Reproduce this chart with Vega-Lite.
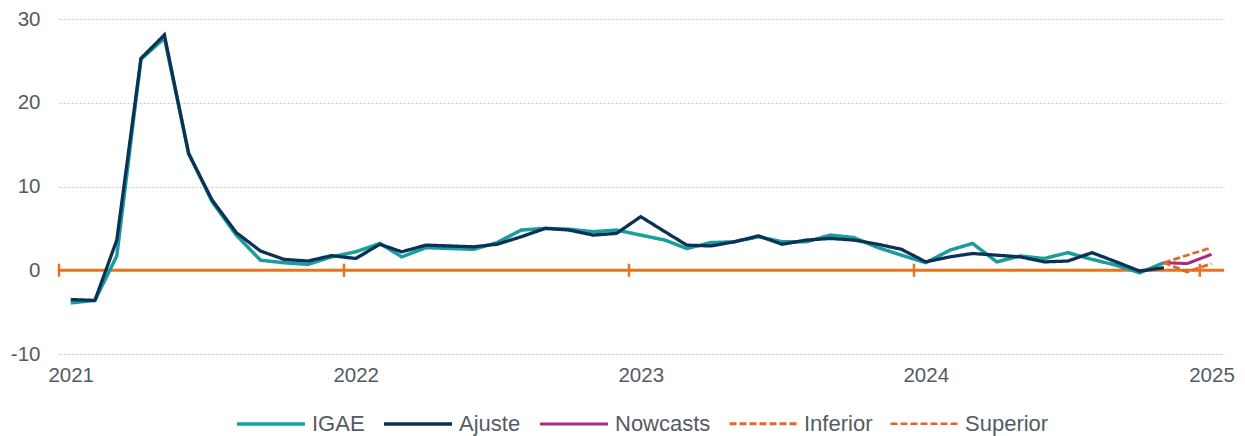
{
  "$schema": "https://vega.github.io/schema/vega-lite/v6.json",
  "autosize": {"type": "none"},
  "padding": {"left": 59, "top": 19, "right": 21, "bottom": 82},
  "width": 1165,
  "height": 335,
  "config": {
    "font": "Liberation Sans",
    "view": {"stroke": null},
    "axis": {"labelColor": "#545b63", "labelFont": "Liberation Sans"},
    "legend": {"labelFont": "Liberation Sans"}
  },
  "datasets": {
    "series": [
      {"fecha": "2021-01-16", "serie": "IGAE", "valor": -3.9},
      {"fecha": "2021-02-16", "serie": "IGAE", "valor": -3.6},
      {"fecha": "2021-03-16", "serie": "IGAE", "valor": 1.7},
      {"fecha": "2021-04-16", "serie": "IGAE", "valor": 25.2},
      {"fecha": "2021-05-16", "serie": "IGAE", "valor": 27.7},
      {"fecha": "2021-06-16", "serie": "IGAE", "valor": 14.0},
      {"fecha": "2021-07-16", "serie": "IGAE", "valor": 8.2},
      {"fecha": "2021-08-16", "serie": "IGAE", "valor": 4.2},
      {"fecha": "2021-09-16", "serie": "IGAE", "valor": 1.2},
      {"fecha": "2021-10-16", "serie": "IGAE", "valor": 0.9},
      {"fecha": "2021-11-16", "serie": "IGAE", "valor": 0.7},
      {"fecha": "2021-12-16", "serie": "IGAE", "valor": 1.6},
      {"fecha": "2022-01-16", "serie": "IGAE", "valor": 2.2},
      {"fecha": "2022-02-16", "serie": "IGAE", "valor": 3.2},
      {"fecha": "2022-03-16", "serie": "IGAE", "valor": 1.6},
      {"fecha": "2022-04-16", "serie": "IGAE", "valor": 2.7},
      {"fecha": "2022-05-16", "serie": "IGAE", "valor": 2.6},
      {"fecha": "2022-06-16", "serie": "IGAE", "valor": 2.5},
      {"fecha": "2022-07-16", "serie": "IGAE", "valor": 3.3},
      {"fecha": "2022-08-16", "serie": "IGAE", "valor": 4.8},
      {"fecha": "2022-09-16", "serie": "IGAE", "valor": 5.0},
      {"fecha": "2022-10-16", "serie": "IGAE", "valor": 4.9},
      {"fecha": "2022-11-16", "serie": "IGAE", "valor": 4.6},
      {"fecha": "2022-12-16", "serie": "IGAE", "valor": 4.8},
      {"fecha": "2023-01-16", "serie": "IGAE", "valor": 4.2},
      {"fecha": "2023-02-16", "serie": "IGAE", "valor": 3.6},
      {"fecha": "2023-03-16", "serie": "IGAE", "valor": 2.6},
      {"fecha": "2023-04-16", "serie": "IGAE", "valor": 3.3},
      {"fecha": "2023-05-16", "serie": "IGAE", "valor": 3.4},
      {"fecha": "2023-06-16", "serie": "IGAE", "valor": 4.0},
      {"fecha": "2023-07-16", "serie": "IGAE", "valor": 3.4},
      {"fecha": "2023-08-16", "serie": "IGAE", "valor": 3.4},
      {"fecha": "2023-09-16", "serie": "IGAE", "valor": 4.2},
      {"fecha": "2023-10-16", "serie": "IGAE", "valor": 3.9},
      {"fecha": "2023-11-16", "serie": "IGAE", "valor": 2.7},
      {"fecha": "2023-12-16", "serie": "IGAE", "valor": 1.8},
      {"fecha": "2024-01-16", "serie": "IGAE", "valor": 0.9},
      {"fecha": "2024-02-16", "serie": "IGAE", "valor": 2.4},
      {"fecha": "2024-03-16", "serie": "IGAE", "valor": 3.2},
      {"fecha": "2024-04-16", "serie": "IGAE", "valor": 1.0},
      {"fecha": "2024-05-16", "serie": "IGAE", "valor": 1.7},
      {"fecha": "2024-06-16", "serie": "IGAE", "valor": 1.4},
      {"fecha": "2024-07-16", "serie": "IGAE", "valor": 2.1},
      {"fecha": "2024-08-16", "serie": "IGAE", "valor": 1.3},
      {"fecha": "2024-09-16", "serie": "IGAE", "valor": 0.6},
      {"fecha": "2024-10-16", "serie": "IGAE", "valor": -0.3},
      {"fecha": "2024-11-16", "serie": "IGAE", "valor": 0.9},
      {"fecha": "2021-01-16", "serie": "Ajuste", "valor": -3.5},
      {"fecha": "2021-02-16", "serie": "Ajuste", "valor": -3.6},
      {"fecha": "2021-03-16", "serie": "Ajuste", "valor": 3.6},
      {"fecha": "2021-04-16", "serie": "Ajuste", "valor": 25.3},
      {"fecha": "2021-05-16", "serie": "Ajuste", "valor": 28.1},
      {"fecha": "2021-06-16", "serie": "Ajuste", "valor": 13.9},
      {"fecha": "2021-07-16", "serie": "Ajuste", "valor": 8.4},
      {"fecha": "2021-08-16", "serie": "Ajuste", "valor": 4.5},
      {"fecha": "2021-09-16", "serie": "Ajuste", "valor": 2.3},
      {"fecha": "2021-10-16", "serie": "Ajuste", "valor": 1.3},
      {"fecha": "2021-11-16", "serie": "Ajuste", "valor": 1.1},
      {"fecha": "2021-12-16", "serie": "Ajuste", "valor": 1.75},
      {"fecha": "2022-01-16", "serie": "Ajuste", "valor": 1.4},
      {"fecha": "2022-02-16", "serie": "Ajuste", "valor": 3.1},
      {"fecha": "2022-03-16", "serie": "Ajuste", "valor": 2.2},
      {"fecha": "2022-04-16", "serie": "Ajuste", "valor": 3.0},
      {"fecha": "2022-05-16", "serie": "Ajuste", "valor": 2.9},
      {"fecha": "2022-06-16", "serie": "Ajuste", "valor": 2.8},
      {"fecha": "2022-07-16", "serie": "Ajuste", "valor": 3.1},
      {"fecha": "2022-08-16", "serie": "Ajuste", "valor": 4.0},
      {"fecha": "2022-09-16", "serie": "Ajuste", "valor": 5.0},
      {"fecha": "2022-10-16", "serie": "Ajuste", "valor": 4.8},
      {"fecha": "2022-11-16", "serie": "Ajuste", "valor": 4.2},
      {"fecha": "2022-12-16", "serie": "Ajuste", "valor": 4.4},
      {"fecha": "2023-01-16", "serie": "Ajuste", "valor": 6.4},
      {"fecha": "2023-02-16", "serie": "Ajuste", "valor": 4.6},
      {"fecha": "2023-03-16", "serie": "Ajuste", "valor": 3.0},
      {"fecha": "2023-04-16", "serie": "Ajuste", "valor": 2.9},
      {"fecha": "2023-05-16", "serie": "Ajuste", "valor": 3.4},
      {"fecha": "2023-06-16", "serie": "Ajuste", "valor": 4.1},
      {"fecha": "2023-07-16", "serie": "Ajuste", "valor": 3.1},
      {"fecha": "2023-08-16", "serie": "Ajuste", "valor": 3.6},
      {"fecha": "2023-09-16", "serie": "Ajuste", "valor": 3.8},
      {"fecha": "2023-10-16", "serie": "Ajuste", "valor": 3.6},
      {"fecha": "2023-11-16", "serie": "Ajuste", "valor": 3.1},
      {"fecha": "2023-12-16", "serie": "Ajuste", "valor": 2.5},
      {"fecha": "2024-01-16", "serie": "Ajuste", "valor": 1.0},
      {"fecha": "2024-02-16", "serie": "Ajuste", "valor": 1.6},
      {"fecha": "2024-03-16", "serie": "Ajuste", "valor": 2.0},
      {"fecha": "2024-04-16", "serie": "Ajuste", "valor": 1.8},
      {"fecha": "2024-05-16", "serie": "Ajuste", "valor": 1.6},
      {"fecha": "2024-06-16", "serie": "Ajuste", "valor": 1.0},
      {"fecha": "2024-07-16", "serie": "Ajuste", "valor": 1.1},
      {"fecha": "2024-08-16", "serie": "Ajuste", "valor": 2.1},
      {"fecha": "2024-09-16", "serie": "Ajuste", "valor": 1.0},
      {"fecha": "2024-10-16", "serie": "Ajuste", "valor": -0.1},
      {"fecha": "2024-11-16", "serie": "Ajuste", "valor": 0.3},
      {"fecha": "2024-11-16", "serie": "Nowcasts", "valor": 0.9},
      {"fecha": "2024-12-16", "serie": "Nowcasts", "valor": 0.8},
      {"fecha": "2025-01-16", "serie": "Nowcasts", "valor": 1.9},
      {"fecha": "2024-11-16", "serie": "Inferior", "valor": 0.9},
      {"fecha": "2024-12-16", "serie": "Inferior", "valor": -0.2},
      {"fecha": "2025-01-16", "serie": "Inferior", "valor": 0.8},
      {"fecha": "2024-11-16", "serie": "Superior", "valor": 0.9},
      {"fecha": "2024-12-16", "serie": "Superior", "valor": 1.8},
      {"fecha": "2025-01-16", "serie": "Superior", "valor": 2.7}
    ],
    "years": [
      {"fecha": "2021-01-01"},
      {"fecha": "2022-01-01"},
      {"fecha": "2023-01-01"},
      {"fecha": "2024-01-01"},
      {"fecha": "2025-01-01"}
    ],
    "cero": [{"valor": 0}]
  },
  "layer": [
    {
      "data": {"name": "cero"},
      "mark": {"type": "rule", "color": "#e8731e", "strokeWidth": 3},
      "encoding": {
        "y": {
          "field": "valor",
          "type": "quantitative",
          "scale": {"domain": [-10, 30], "nice": false},
          "axis": {
            "title": null,
            "values": [-10, 0, 10, 20, 30],
            "domain": false,
            "ticks": false,
            "labelFontSize": 20.5,
            "labelPadding": 19,
            "labelExpr": "datum.value < 0 ? '-' + abs(datum.value) : '' + datum.value",
            "grid": true,
            "gridColor": "#c4c4c4",
            "gridDash": [2, 2],
            "gridWidth": 1
          }
        }
      }
    },
    {
      "data": {"name": "years"},
      "mark": {"type": "rule", "color": "#e8731e", "strokeWidth": 2.5},
      "encoding": {
        "x": {
          "field": "fecha",
          "type": "temporal",
          "scale": {
            "type": "utc",
            "domain": [
              {"year": 2021, "month": 1, "date": 1, "utc": true},
              {"year": 2025, "month": 2, "date": 1, "utc": true}
            ]
          },
          "axis": {
            "title": null,
            "grid": false,
            "domain": false,
            "ticks": false,
            "labelFontSize": 20.5,
            "labelPadding": 11,
            "values": [
              {"year": 2021, "month": 1, "date": 16, "utc": true},
              {"year": 2022, "month": 1, "date": 16, "utc": true},
              {"year": 2023, "month": 1, "date": 16, "utc": true},
              {"year": 2024, "month": 1, "date": 16, "utc": true},
              {"year": 2025, "month": 1, "date": 16, "utc": true}
            ],
            "labelExpr": "utcFormat(datum.value, '%Y')"
          }
        },
        "y": {"datum": -0.78, "type": "quantitative"},
        "y2": {"datum": 0.78}
      }
    },
    {
      "data": {"name": "series"},
      "mark": {"type": "line", "strokeCap": "butt", "strokeJoin": "miter"},
      "encoding": {
        "x": {"field": "fecha", "type": "temporal"},
        "y": {"field": "valor", "type": "quantitative"},
        "color": {
          "field": "serie",
          "type": "nominal",
          "sort": ["IGAE", "Ajuste", "Nowcasts", "Inferior", "Superior"],
          "scale": {
            "domain": ["IGAE", "Ajuste", "Nowcasts", "Inferior", "Superior"],
            "range": ["#1a9e9c", "#0b3156", "#a3307f", "#e4672a", "#e4672a"]
          },
          "legend": {
            "title": null,
            "orient": "none",
            "legendX": 176,
            "legendY": 369,
            "direction": "horizontal",
            "symbolType": "stroke",
            "symbolSize": 4624,
            "symbolStrokeWidth": 3,
            "labelFontSize": 22,
            "labelColor": "#545b63",
            "labelOffset": 5,
            "columnPadding": 12
          }
        },
        "strokeDash": {
          "field": "serie",
          "type": "nominal",
          "sort": ["IGAE", "Ajuste", "Nowcasts", "Inferior", "Superior"],
          "scale": {
            "domain": ["IGAE", "Ajuste", "Nowcasts", "Inferior", "Superior"],
            "range": [[1, 0], [1, 0], [1, 0], [7, 3], [7, 3]]
          },
          "legend": {
            "title": null,
            "orient": "none",
            "legendX": 176,
            "legendY": 369,
            "direction": "horizontal",
            "symbolType": "stroke",
            "symbolSize": 4624,
            "symbolStrokeWidth": 3,
            "labelFontSize": 22,
            "labelColor": "#545b63",
            "labelOffset": 5,
            "columnPadding": 12
          }
        },
        "strokeWidth": {
          "field": "serie",
          "type": "nominal",
          "scale": {
            "domain": ["IGAE", "Ajuste", "Nowcasts", "Inferior", "Superior"],
            "range": [3.5, 2.7, 3.5, 2.5, 2.5]
          },
          "legend": null
        }
      }
    }
  ]
}
